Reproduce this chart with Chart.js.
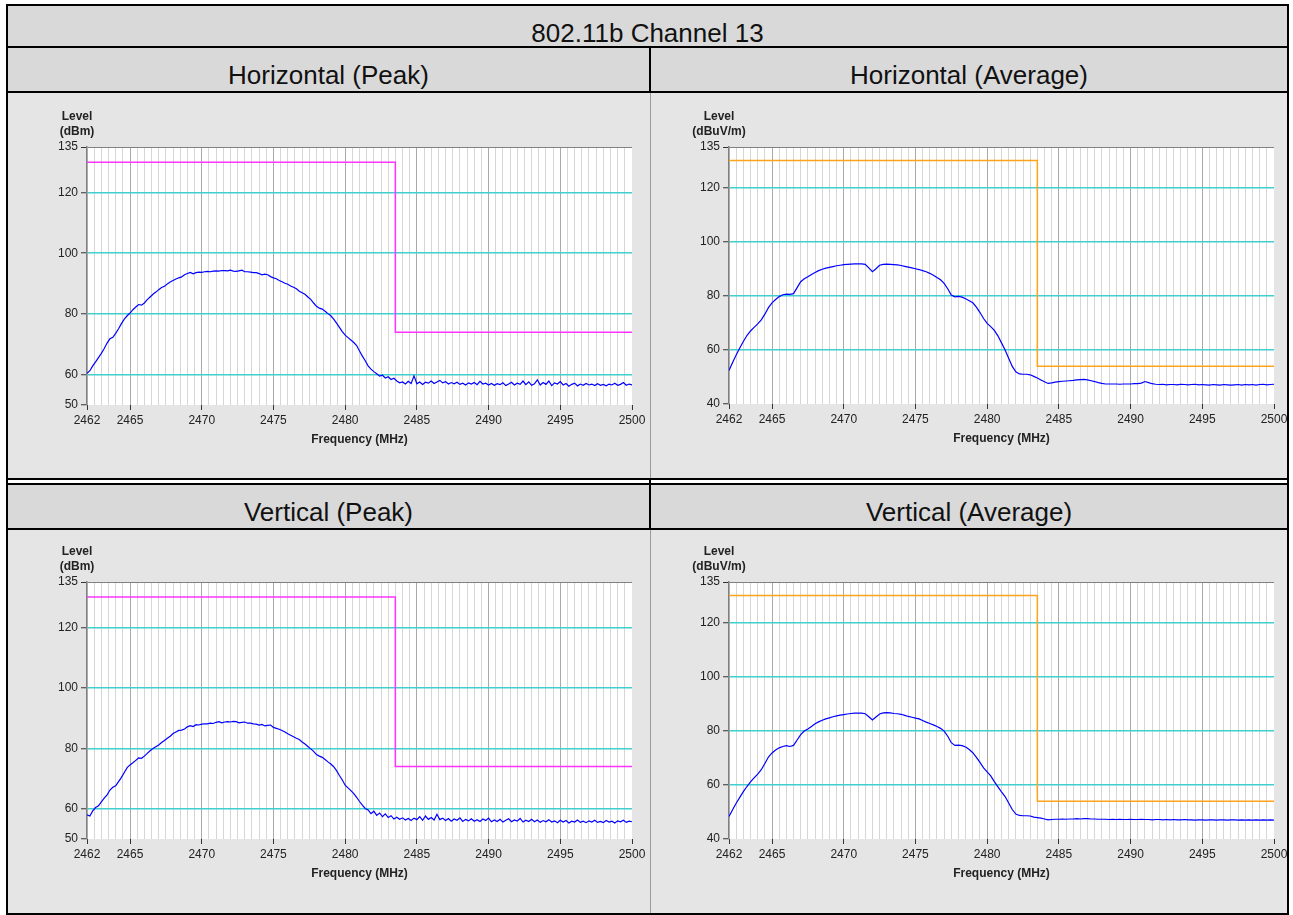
<!DOCTYPE html>
<html lang="en">
<head>
<meta charset="UTF-8">
<title>802.11b Channel 13</title>
<script src="https://cdn.jsdelivr.net/npm/chart.js"></script>
<style>
  body { margin: 0; background: #fff; font-family: Arial, "Liberation Sans", sans-serif; }
  .frame { position: absolute; left: 6px; top: 4px; width: 1283px; height: 911px; background: #000; }
  .head { position: absolute; background: #d9d9d9; text-align: center; font-size: 26px; line-height: 30px;
          color: #111; box-sizing: border-box; padding-top: 12px; }
  .row { position: absolute; background: #9a9a9a; }
  .plot { position: absolute; background: #e5e5e5; }
  .plot canvas { position: absolute; left: 0; top: 0; }
  .gap { position: absolute; background: #fff; }
</style>
</head>
<body>
<div class="frame">
  <div class="head" style="left:2px;top:2px;width:1279px;height:40px;">802.11b Channel 13</div>

  <div class="head" style="left:2px;top:44px;width:641px;height:43px;">Horizontal (Peak)</div>
  <div class="head" style="left:645px;top:44px;width:636px;height:43px;">Horizontal (Average)</div>
  <div class="row" style="left:2px;top:89px;width:1279px;height:385px;">
    <div class="plot" style="left:0;top:0;width:642px;height:385px;"><canvas id="hPeakChart" width="642" height="385"></canvas></div>
    <div class="plot" style="left:643px;top:0;width:636px;height:385px;"><canvas id="hAvgChart" width="636" height="385"></canvas></div>
  </div>

  <div class="gap" style="left:2px;top:476px;width:641px;height:3px;"></div>
  <div class="gap" style="left:645px;top:476px;width:636px;height:3px;"></div>

  <div class="head" style="left:2px;top:481px;width:641px;height:43px;">Vertical (Peak)</div>
  <div class="head" style="left:645px;top:481px;width:636px;height:43px;">Vertical (Average)</div>
  <div class="row" style="left:2px;top:526px;width:1279px;height:383px;">
    <div class="plot" style="left:0;top:0;width:642px;height:383px;"><canvas id="vPeakChart" width="642" height="383"></canvas></div>
    <div class="plot" style="left:643px;top:0;width:636px;height:383px;"><canvas id="vAvgChart" width="636" height="383"></canvas></div>
  </div>
</div>

<script>
  // sweep grid: peak traces every 0.2 MHz, average traces every 0.25 MHz, from 2462 MHz
  const freqStartMHz = 2462;
  const peakStepMHz = 0.2;
  const avgStepMHz = 0.25;

  const hPeak = [
    60.4, 61.3, 62.9, 64.2, 65.6, 67.0, 68.6, 70.4, 71.8, 72.3,
    73.6, 75.1, 76.8, 78.3, 79.4, 80.3, 81.4, 82.3, 83.1, 82.9,
    83.6, 84.7, 85.6, 86.5, 87.2, 88.0, 88.7, 89.1, 89.9, 90.5,
    91.0, 91.5, 91.9, 92.2, 92.9, 93.3, 93.7, 93.2, 93.6, 93.8,
    93.7, 93.9, 94.0, 93.9, 94.1, 94.2, 94.1, 94.3, 94.3, 94.2,
    94.4, 94.1, 94.0, 94.2, 94.4, 93.9, 93.9, 93.8, 93.6, 93.6,
    93.3, 92.9, 93.1, 92.9, 92.3, 91.9, 91.6, 91.0, 90.6, 90.1,
    89.8, 89.2, 88.8, 88.3, 87.5, 87.0, 86.5, 85.6, 84.8, 83.6,
    82.5, 81.9, 81.6, 80.9, 80.1, 79.4, 78.3, 77.0, 75.6, 74.2,
    73.0, 72.2, 71.4, 70.6, 69.6, 67.8, 66.1, 64.6, 62.9, 61.8,
    61.0, 60.3, 59.5, 59.8, 58.9, 59.3, 58.4, 58.8, 57.9, 57.3,
    57.6, 56.9, 57.8, 57.1, 59.6, 57.0, 57.6, 56.8, 57.5, 57.2,
    57.9, 57.1, 57.6, 58.1, 57.3, 57.7, 56.9, 57.4, 57.0, 57.5,
    56.8, 57.2, 56.6, 57.3, 56.9, 57.4, 56.7, 57.8, 56.9, 57.2,
    56.6, 57.1, 56.5, 57.0, 56.7, 57.3, 56.4, 56.9, 57.5, 56.6,
    57.2, 56.8, 57.9, 56.7, 57.6, 56.5, 57.0, 58.3, 56.6, 57.4,
    56.8, 57.9, 56.4, 57.3, 56.9, 57.7, 56.6, 57.1, 56.2, 56.8,
    57.2, 56.3, 56.9, 56.5, 57.1, 56.6, 56.9, 56.4, 57.0, 56.5,
    56.8, 56.3, 56.9, 56.6, 57.2, 56.5, 56.8, 57.4, 56.5, 56.9,
    56.6
  ];

  const vPeak = [
    58.0, 57.6, 59.3, 60.4, 61.0, 62.3, 63.5, 64.6, 66.2, 67.1,
    67.6, 69.0, 70.4, 72.0, 73.6, 74.5, 75.2, 76.0, 76.8, 76.7,
    77.4, 78.3, 79.2, 79.9, 80.5, 81.1, 81.9, 82.6, 83.3, 84.0,
    84.9, 85.4, 85.9, 86.0, 86.4, 87.1, 87.5, 87.2, 87.8, 87.7,
    88.0, 88.1, 88.1, 88.3, 88.2, 88.6, 88.8, 88.4, 88.7, 88.8,
    88.7, 88.9, 88.8, 88.4, 88.6, 88.7, 88.3, 88.3, 88.1, 88.0,
    87.7, 87.9, 87.4, 87.6, 87.7, 86.9, 86.6, 86.3, 85.9, 85.4,
    84.8, 84.3, 83.8, 83.3, 82.9, 82.1, 81.4, 80.6, 79.8, 79.0,
    77.9, 77.4, 77.0, 76.3, 75.5, 74.8, 73.9, 72.6, 71.0, 69.5,
    67.8, 66.9, 66.0, 65.0, 63.8, 62.4, 61.2, 60.1, 59.6, 58.4,
    59.2, 57.8, 58.6, 57.4, 58.3, 57.1, 57.7, 56.6, 57.2, 56.5,
    57.0, 56.3, 56.8, 56.1, 56.9, 56.4, 57.4, 56.2, 57.6, 56.5,
    57.1, 56.3, 58.2, 56.4, 56.9, 56.1, 56.8, 55.9, 56.6, 56.2,
    57.0, 55.8, 56.5, 56.0, 56.7, 55.9, 56.4, 55.8, 56.6, 56.1,
    56.9, 55.7, 56.3, 55.8, 56.5, 55.6, 56.2, 56.7, 55.7, 56.3,
    55.9, 56.8, 55.6, 56.2, 55.8, 56.5, 55.7, 56.3, 55.5, 56.1,
    55.7, 56.4, 55.6, 56.0, 55.4, 56.2, 55.6, 56.1, 55.3, 55.9,
    55.6, 56.3, 55.5, 55.9, 55.4, 56.0, 55.6, 56.2, 55.5, 55.8,
    55.4, 56.1, 55.6, 55.9, 55.3, 56.0, 55.7, 56.2, 55.5, 55.9,
    55.7
  ];

  const hAvg = [
    52.4, 55.3, 58.1, 60.7, 63.1, 65.3, 67.0, 68.3, 69.6, 71.1,
    73.2, 75.6, 77.4, 78.6, 79.7, 80.4, 80.6, 80.5, 80.8, 83.0,
    85.2, 86.3, 87.0, 87.9, 88.6, 89.3, 89.8, 90.2, 90.5, 90.8,
    91.1, 91.3, 91.5, 91.6, 91.7, 91.8, 91.8, 91.8, 91.6, 90.3,
    88.9, 90.0, 91.3, 91.6, 91.7, 91.6, 91.5, 91.4, 91.2, 90.9,
    90.6, 90.3, 90.0, 89.7, 89.3, 88.9, 88.3, 87.6, 86.8, 85.9,
    84.6, 82.6, 80.3, 79.6, 79.8, 79.5, 78.9, 78.2, 77.4, 75.8,
    73.8, 71.6, 69.8, 68.6, 67.2, 65.2, 62.6, 60.0, 56.9, 53.9,
    51.9, 51.1, 51.0, 51.0, 50.8, 50.2, 49.6, 48.9, 48.2, 47.6,
    47.8, 48.1, 48.3, 48.4, 48.5, 48.6, 48.7, 48.9, 49.0, 49.1,
    48.9, 48.6, 48.3, 47.9, 47.6, 47.4, 47.4, 47.4, 47.4, 47.3,
    47.4, 47.4, 47.4, 47.5, 47.5, 47.7, 48.3, 47.9, 47.5, 47.3,
    47.2, 47.3, 47.1, 47.2, 47.2, 47.1, 47.3, 47.2, 47.1, 47.2,
    47.3, 47.1, 47.2, 47.1, 47.0, 47.2, 47.1, 47.0, 47.2, 47.1,
    47.0, 47.1, 47.2, 47.0, 47.2, 47.1, 47.2, 47.0, 47.2, 47.3,
    47.1, 47.2, 47.3
  ];

  const vAvg = [
    48.3, 50.8, 53.2, 55.4, 57.5, 59.4, 61.1, 62.6, 64.0, 65.6,
    67.9, 70.3, 71.8, 72.9, 73.7, 74.2, 74.5, 74.2, 74.6, 76.6,
    78.6, 79.9, 80.7, 81.6, 82.6, 83.3, 83.9, 84.4, 84.8, 85.2,
    85.5, 85.8, 86.0, 86.2, 86.4, 86.5, 86.5, 86.5, 86.3, 85.2,
    84.0, 85.1, 86.2, 86.6, 86.7, 86.6, 86.4, 86.3, 86.1, 85.7,
    85.3, 85.0, 84.7, 84.4, 83.8, 83.2, 82.7, 82.2, 81.6, 80.9,
    79.9, 78.0, 75.6, 74.6, 74.7, 74.5, 74.0, 73.1, 71.9, 70.2,
    68.3, 66.3, 64.8, 63.3, 61.2, 59.3, 57.4, 55.7, 53.3, 50.9,
    49.2, 48.7, 48.6, 48.6, 48.5, 48.1, 47.9, 47.7, 47.4, 47.1,
    47.2, 47.3, 47.3, 47.4, 47.3, 47.4, 47.4, 47.5, 47.4, 47.5,
    47.5, 47.4, 47.4, 47.3, 47.3, 47.3, 47.2, 47.3, 47.2, 47.3,
    47.2, 47.2, 47.3, 47.2, 47.2, 47.3, 47.2, 47.2, 47.1, 47.2,
    47.2, 47.1, 47.2, 47.1, 47.2, 47.1, 47.1, 47.2, 47.1, 47.1,
    47.0, 47.1, 47.1, 47.0, 47.1, 47.1, 47.0, 47.1, 47.1, 47.0,
    47.1, 47.1, 47.0, 47.1, 47.0, 47.1, 47.0, 47.1, 47.0, 47.1,
    47.0, 47.1, 47.0
  ];

  // limit lines (step at 2483.5 MHz)
  const limitFreq = [2462, 2483.5, 2483.5, 2500];
  const peakLimit = [130, 130, 74, 74];
  const avgLimit = [130, 130, 54, 54];

  const xTickLabels = [2462, 2465, 2470, 2475, 2480, 2485, 2490, 2495, 2500];
  const yTicksPeak = [50, 60, 80, 100, 120, 135];
  const yTicksAvg = [40, 60, 80, 100, 120, 135];

  // vertical grid every 0.5 MHz
  const gridFreqs = [];
  for (let f = 2462; f <= 2500; f += 0.5) gridFreqs.push(f);

  Chart.defaults.font.family = 'Arial, "Liberation Sans", sans-serif';

  const plotFrame = {
    id: 'plotFrame',
    beforeDraw(chart) {
      const { ctx, chartArea: a } = chart;
      ctx.save();
      ctx.fillStyle = '#ffffff';
      ctx.fillRect(a.left, a.top, a.right - a.left, a.bottom - a.top);
      ctx.restore();
    },
    afterDraw(chart, args, opts) {
      const { ctx, chartArea: a } = chart;
      ctx.save();
      ctx.fillStyle = '#222';
      ctx.font = 'bold 12px Arial, "Liberation Sans", sans-serif';
      ctx.textAlign = 'center';
      ctx.textBaseline = 'middle';
      ctx.fillText('Level', a.left - 10, a.top - 30);
      ctx.fillText(opts.unit, a.left - 10, a.top - 15);
      ctx.restore();
    }
  };

  function drawPanel(id, trace, step, limit, limitColor, yTicks, unit, area) {
    const canvas = document.getElementById(id);
    const W = canvas.width, H = canvas.height;
    const yMin = yTicks[0], yMax = yTicks[yTicks.length - 1];

    new Chart(canvas, {
      type: 'line',
      data: {
        datasets: [
          {
            data: limitFreq.map((f, i) => ({ x: f, y: limit[i] })),
            borderColor: limitColor,
            borderWidth: 1.5,
            pointRadius: 0
          },
          {
            data: trace.map((v, i) => ({ x: freqStartMHz + i * step, y: v })),
            borderColor: '#0000ff',
            borderWidth: 1.2,
            pointRadius: 0
          }
        ]
      },
      options: {
        responsive: false,
        animation: false,
        events: [],
        layout: {
          padding: { left: area.l - 40, top: area.t, right: W - area.r, bottom: H - area.b - 50 }
        },
        plugins: {
          legend: { display: false },
          tooltip: { enabled: false },
          plotFrame: { unit: unit }
        },
        scales: {
          x: {
            type: 'linear',
            min: 2462,
            max: 2500,
            afterFit: s => { s.height = 50; s.paddingLeft = 0; s.paddingRight = 0; },
            afterBuildTicks: s => { s.ticks = gridFreqs.map(v => ({ value: v })); },
            ticks: {
              autoSkip: false,
              maxRotation: 0,
              minRotation: 0,
              padding: 3,
              color: '#222',
              font: { size: 12 },
              callback: v => xTickLabels.includes(v) ? String(v) : ''
            },
            grid: {
              z: -2,
              lineWidth: 1,
              color: c => c.tick.value === 2500 ? 'rgba(0,0,0,0)' : (c.tick.value % 5 === 0 ? '#a9a9a9' : '#d6d6d6'),
              tickColor: c => xTickLabels.includes(c.tick.value) ? '#333' : 'rgba(0,0,0,0)',
              tickLength: 5,
              tickWidth: 1
            },
            border: { display: false },
            title: {
              display: true,
              text: 'Frequency (MHz)',
              color: '#222',
              font: { size: 12, weight: 'bold' },
              padding: { top: 0, bottom: 8 }
            }
          },
          y: {
            type: 'linear',
            min: yMin,
            max: yMax,
            afterFit: s => { s.width = 40; },
            afterBuildTicks: s => { s.ticks = yTicks.map(v => ({ value: v })); },
            ticks: { padding: 3, color: '#222', font: { size: 12 } },
            grid: {
              z: -1,
              color: c => c.tick.value === yMax ? '#808080' : (c.tick.value === yMin ? 'rgba(0,0,0,0)' : '#40d0d0'),
              lineWidth: c => c.tick.value === yMax ? 1 : 1.5,
              tickColor: '#333',
              tickLength: 6,
              tickWidth: 1
            },
            border: { display: true, color: '#808080', width: 1.5 }
          }
        }
      },
      plugins: [plotFrame]
    });
  }

  drawPanel('hPeakChart', hPeak, peakStepMHz, peakLimit, '#ff33ff', yTicksPeak, '(dBm)', { l: 79, t: 54, r: 624, b: 312 });
  drawPanel('hAvgChart', hAvg, avgStepMHz, avgLimit, '#ffa31a', yTicksAvg, '(dBuV/m)', { l: 78, t: 54, r: 623, b: 311 });
  drawPanel('vPeakChart', vPeak, peakStepMHz, peakLimit, '#ff33ff', yTicksPeak, '(dBm)', { l: 79, t: 52, r: 624, b: 309 });
  drawPanel('vAvgChart', vAvg, avgStepMHz, avgLimit, '#ffa31a', yTicksAvg, '(dBuV/m)', { l: 78, t: 52, r: 623, b: 309 });
</script>
</body>
</html>
